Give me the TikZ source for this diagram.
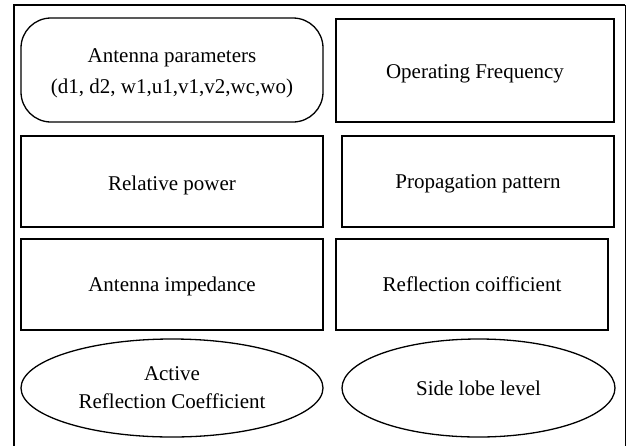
\documentclass[tikz,border=0pt]{standalone}
\usepackage{fontspec}
\setmainfont{Liberation Serif}
\usetikzlibrary{shapes.geometric}
\newcommand\txtdown[2]{\raisebox{-#1}[\height][\depth]{#2}}
\begin{document}
\begin{tikzpicture}[x=1pt,y=-1pt,
  every node/.style={font=\fontsize{21}{31}\selectfont, align=center, inner sep=0pt, line width=1.3pt},
  rbox/.style={draw, rectangle},
  rrbox/.style={draw, rectangle, rounded corners=30pt},
  ebox/.style={draw, ellipse}]
\useasboundingbox (0,0) rectangle (626,445);
\coordinate (fbl) at (14,446);
\coordinate (ftl) at (14,5);
\coordinate (ftr) at (625,5);
\coordinate (fbr) at (625,446);
\draw[line width=2pt] (fbl) -- (ftl) -- (ftr);
\draw[line width=1pt] (ftr) -- (fbr);
\node[rrbox, minimum width=302pt, minimum height=104pt] (ap) at (172,70) {\txtdown{2pt}{\begin{tabular}{@{}c@{}}Antenna parameters\\(d1, d2, w1,u1,v1,v2,wc,wo)\end{tabular}}};
\node[rbox, minimum width=278pt, minimum height=103pt] (of) at (475,70.5) {\txtdown{3pt}{Operating Frequency}};
\node[rbox, minimum width=302pt, minimum height=91pt] (rp) at (172,181.5) {\txtdown{4pt}{Relative power}};
\node[rbox, minimum width=272pt, minimum height=91pt] (pp) at (478,181.5) {\txtdown{2pt}{Propagation pattern}};
\node[rbox, minimum width=302pt, minimum height=91pt] (ai) at (172,284.5) {\txtdown{2pt}{Antenna impedance}};
\node[rbox, minimum width=272pt, minimum height=91pt] (rc) at (472,284.5) {Reflection coifficient};
\node[ebox, minimum width=302pt, minimum height=98pt] (arc) at (172,388) {\txtdown{0pt}{\begin{tabular}{@{}c@{}}Active\\[-3pt]Reflection Coefficient\end{tabular}}};
\node[ebox, minimum width=273pt, minimum height=98pt] (sll) at (478.5,388) {Side lobe level};
\end{tikzpicture}
\end{document}
